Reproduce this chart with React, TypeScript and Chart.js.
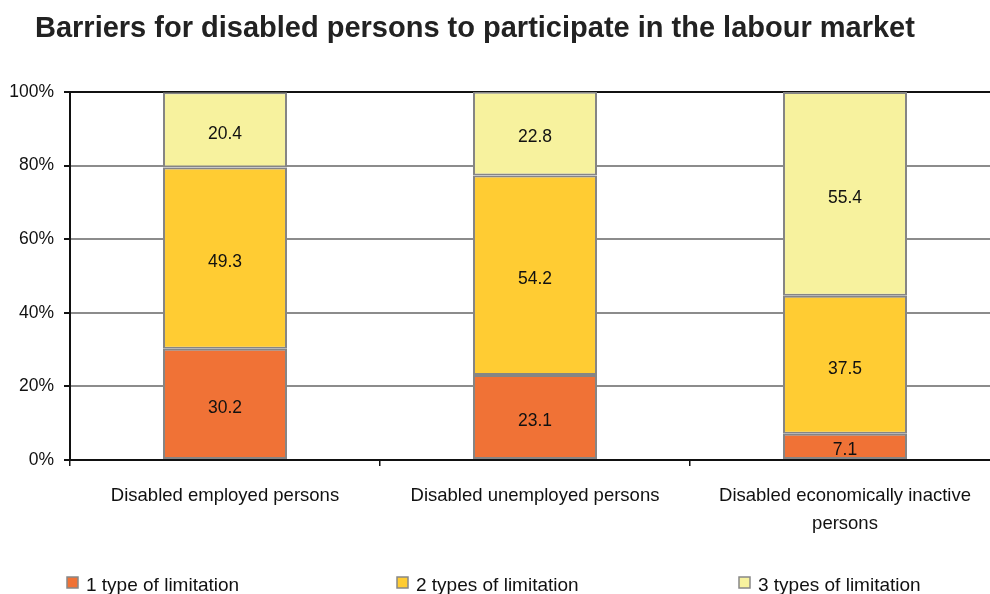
import React, { useEffect, useRef } from "react";
import { Chart, registerables } from "chart.js";

Chart.register(...registerables);

const titleText = "Barriers for disabled persons to participate in the labour market";
const categories: (string | string[])[] = [
  "Disabled employed persons",
  "Disabled unemployed persons",
  ["Disabled economically inactive", "persons"],
];
const seriesNames = ["1 type of limitation", "2 types of limitation", "3 types of limitation"];
const oneType = [30.2, 23.1, 7.1];
const twoTypes = [49.3, 54.2, 37.5];
const threeTypes = [20.4, 22.8, 55.4];
const yTicks = [0, 20, 40, 60, 80, 100];

const colors = ["#F07236", "#FFCC33", "#F7F29E"];
const SANS = "'Liberation Sans', Arial, sans-serif";

const overlayPlugin = {
  id: "overlay",
  afterDatasetsDraw(chart: any) {
    const ctx = chart.ctx;
    ctx.save();
    ctx.fillStyle = "#111";
    ctx.font = `17.5px ${SANS}`;
    ctx.textAlign = "center";
    ctx.textBaseline = "middle";
    chart.data.datasets.forEach((ds: any, di: number) => {
      const meta = chart.getDatasetMeta(di);
      meta.data.forEach((el: any, i: number) => {
        const v = ds.data[i];
        const cy = (el.y + el.base) / 2;
        ctx.fillText(v.toFixed(1), el.x, cy + 4);
      });
    });
    ctx.restore();
  },
  afterDraw(chart: any) {
    const ctx = chart.ctx;
    ctx.save();
    // title
    ctx.fillStyle = "#222";
    ctx.font = `bold 29px ${SANS}`;
    ctx.textAlign = "left";
    ctx.textBaseline = "alphabetic";
    ctx.fillText(titleText, 35, 37);
    // legend
    const xs = [67, 397, 739];
    ctx.font = `19px ${SANS}`;
    ctx.textBaseline = "middle";
    chart.data.datasets.forEach((ds: any, i: number) => {
      const x = xs[i];
      ctx.fillStyle = ds.backgroundColor;
      ctx.fillRect(x, 577, 11, 11);
      ctx.strokeStyle = "#888";
      ctx.lineWidth = 1.5;
      ctx.strokeRect(x, 577, 11, 11);
      ctx.fillStyle = "#111";
      ctx.fillText(ds.label, x + 19, 586);
    });
    ctx.restore();
  },
};

export default function App() {
  const ref = useRef<HTMLCanvasElement>(null);
  useEffect(() => {
    if (!ref.current) return;
    const data = [oneType, twoTypes, threeTypes];
    const chart = new Chart(ref.current, {
      type: "bar",
      data: {
        labels: categories,
        datasets: data.map((d, i) => ({
          label: seriesNames[i],
          data: d,
          backgroundColor: colors[i],
          borderColor: "#858585",
          borderWidth: 2,
          borderSkipped: false,
          barPercentage: 0.4,
          categoryPercentage: 1,
        })),
      },
      options: {
        responsive: false,
        animation: false,
        devicePixelRatio: 1,
        layout: { padding: { top: 92, left: 0, right: 0, bottom: 0 } },
        plugins: {
          legend: { display: false },
          title: { display: false },
          tooltip: { enabled: false },
        },
        scales: {
          x: {
            stacked: true,
            offset: true,
            grid: {
              offset: true,
              drawOnChartArea: false,
              drawTicks: true,
              tickLength: 6,
              color: "#111",
              lineWidth: 1.5,
            },
            border: { display: true, color: "#111", width: 2 },
            ticks: {
              color: "#111",
              font: { family: SANS, size: 18.5, lineHeight: "28px" },
              padding: 16,
              maxRotation: 0,
              autoSkip: false,
            },
            afterFit: (s: any) => {
              s.height = 134;
            },
          },
          y: {
            stacked: true,
            min: 0,
            max: 100,
            afterBuildTicks: (s: any) => {
              s.ticks = yTicks.map((v) => ({ value: v }));
            },
            grid: {
              color: (c: any) => (c.tick && (c.tick.value === 100 || c.tick.value === 0) ? "#111" : "#8c8c8c"),
              lineWidth: 2,
              tickColor: "#111",
              tickLength: 6,
            },
            border: { display: true, color: "#111", width: 2 },
            ticks: {
              color: "#111",
              font: { family: SANS, size: 17.5 },
              padding: 10,
              callback: (v: any) => `${v}%`,
            },
            afterFit: (s: any) => {
              s.width = 70;
            },
          },
        },
      },
      plugins: [overlayPlugin],
    });
    return () => chart.destroy();
  }, []);
  return (
    <div style={{ position: "fixed", left: 0, top: 0, width: 990, height: 594, overflow: "hidden", background: "#fff" }}>
      <canvas ref={ref} width={1000} height={594} style={{ display: "block", width: 1000, height: 594 }} />
    </div>
  );
}
